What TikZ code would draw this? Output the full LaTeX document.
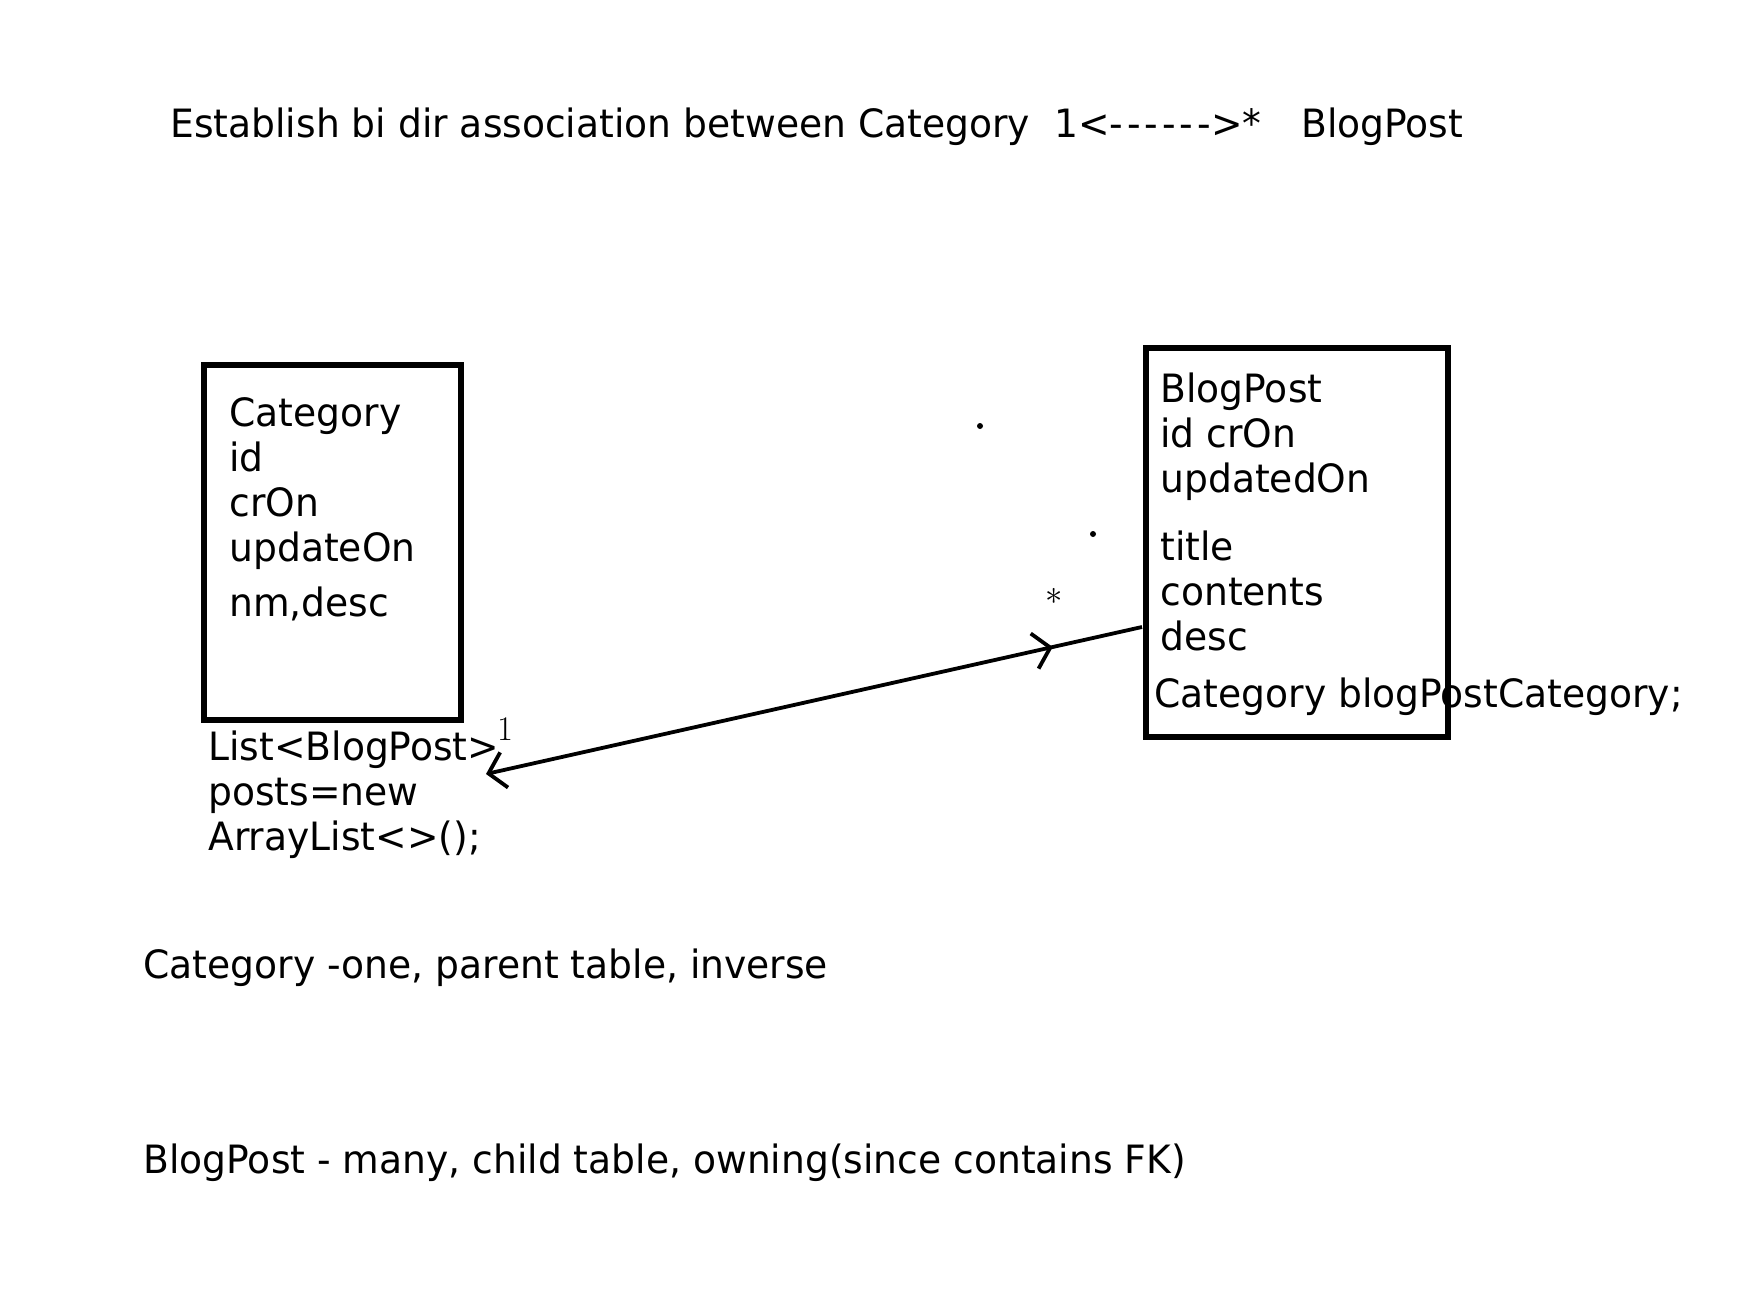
\documentclass[tikz,border=0pt]{standalone}
\usepackage{fontspec}
\setmainfont{DejaVu Sans}[Ligatures=TeXOff, FakeStretch=0.965]
\usetikzlibrary{arrows.meta}
\usetikzlibrary{decorations.markings}

\tikzset{
  barb/.tip={Straight Barb[length=8pt,width=18pt]},
  entity/.style={draw, line width=2.6pt, inner sep=0pt},
  fieldtext/.style={anchor=base west, inner sep=0pt, align=left, font=\fontsize{19.5}{22.5}\selectfont},
  multlbl/.style={inner sep=0pt, font=\fontsize{19}{22}\selectfont},
  assoc/.style={line width=1.9pt, {barb}-, postaction={decorate},
    decoration={markings, mark=at position 0.864 with {\arrow{barb}}}},
}

\begin{document}
\begin{tikzpicture}[x=0.5pt,y=0.5pt,yscale=-1,xscale=1]
\useasboundingbox (0,0) rectangle (1753,1306);

% Text Node
\node (title) [fieldtext] at (170,137.5) {Establish bi dir association between Category\ \ 1<-\kern2pt-\kern2pt-\kern2pt-\kern2pt-\kern2pt->*\ \ \ \hspace{2pt}BlogPost};

%Shape: Rectangle
\node (catbox) [entity, minimum width=128.5pt, minimum height=177.5pt] at (332.5,542.5) {};
%Shape: Rectangle
\node (postbox) [entity, minimum width=151pt, minimum height=194.5pt] at (1297,542.5) {};

% Text Node (base = last line)
\node (catfields) [fieldtext] at (229,616) {Category\\id\\crOn\\updateOn\\[5pt]nm,desc};
% Text Node
\node (catlist) [fieldtext] at (208,850) {List<BlogPost>\\posts=new\\ArrayList<>();};
% Text Node
\node (postfields) [fieldtext] at (1160,650) {BlogPost\\id crOn\\updatedOn\\[11.5pt]title\\contents\\desc};
% Text Node
\node (postref) [fieldtext] at (1154,707) {Category blogPostCategory;};

% stray dots
\fill (980,426) circle [radius=1.5pt];
\fill (1093,534) circle [radius=1.5pt];

%Straight Lines
\coordinate (catport) at (486,774);
\coordinate (postport) at (1142,627);
\draw [assoc] (catport) -- (postport);

% Text Node
\node (onelbl) [multlbl] at (505,729) {$1$};
% Text Node
\node (manylbl) [multlbl] at (1054,596) {$*$};

% Text Node
\node (catnote) [fieldtext] at (143,978) {Category -one, parent table, inverse};
% Text Node
\node (postnote) [fieldtext] at (143,1173) {BlogPost - many, child table, owning(since contains FK)};

\end{tikzpicture}
\end{document}
